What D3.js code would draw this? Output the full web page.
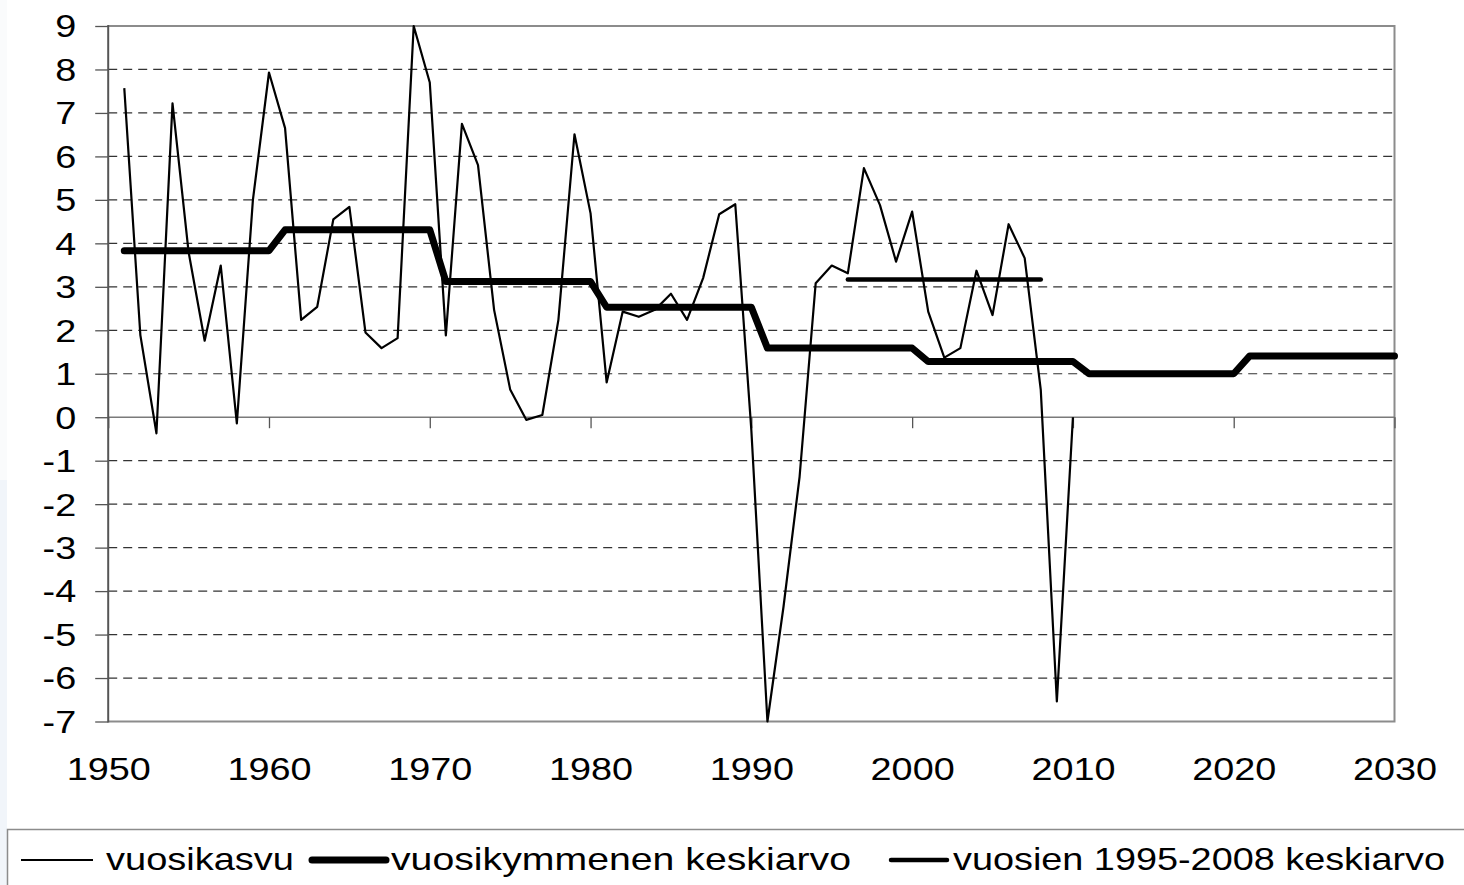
<!DOCTYPE html>
<html>
<head>
<meta charset="utf-8">
<script src="https://cdn.jsdelivr.net/npm/d3@7"></script>
<style>
  html, body { margin: 0; padding: 0; background: #ffffff; }
  svg { display: block; }
  text { font-family: "Liberation Sans", Arial, sans-serif; fill: #000; }
</style>
</head>
<body>
<svg id="chart" width="1464" height="885"></svg>
<script>
// ---- data ----
const growthYears = [1951,1952,1953,1954,1955,1956,1957,1958,1959,1960,
  1961,1962,1963,1964,1965,1966,1967,1968,1969,1970,
  1971,1972,1973,1974,1975,1976,1977,1978,1979,1980,
  1981,1982,1983,1984,1985,1986,1987,1988,1989,1990,
  1991,1992,1993,1994,1995,1996,1997,1998,1999,2000,
  2001,2002,2003,2004,2005,2006,2007,2008,2009,2010];
const growthValues = [7.57,1.89,-0.37,7.22,3.8,1.76,3.49,-0.14,5.0,7.93,
  6.65,2.24,2.54,4.55,4.84,1.95,1.59,1.82,9.0,7.7,
  1.88,6.75,5.8,2.47,0.64,-0.06,0.05,2.24,6.51,4.69,
  0.8,2.43,2.31,2.47,2.84,2.24,3.2,4.67,4.9,-0.3,
  -7.0,-4.36,-1.37,3.08,3.49,3.31,5.73,4.88,3.58,4.73,
  2.43,1.37,1.59,3.37,2.35,4.44,3.66,0.63,-6.54,0.0];

const decadeStart = [1951,1961,1971,1981,1991,2001,2011,2021];
const decadeEnd   = [1960,1970,1980,1990,2000,2010,2020,2030];
const decadeValues = [3.83,4.31,3.12,2.53,1.59,1.28,1.0,1.41];

const periodYears = [1996,2008];
const periodValue = 3.17;

const xTickYears = [1950,1960,1970,1980,1990,2000,2010,2020,2030];
const yTickValues = [9,8,7,6,5,4,3,2,1,0,-1,-2,-3,-4,-5,-6,-7];

const legendLabels = ["vuosikasvu","vuosikymmenen keskiarvo","vuosien 1995-2008 keskiarvo"];

// ---- layout ----
const L = 108.2, R = 1394.5, T = 26, B = 721.5;
const SX = 1.22; // horizontal text stretch
const svg = d3.select("#chart");

svg.append("rect").attr("x",0).attr("y",0).attr("width",7).attr("height",480).attr("fill","#fafbfc");
svg.append("rect").attr("x",0).attr("y",480).attr("width",7).attr("height",405).attr("fill","#f1f5fa");

const x = d3.scaleLinear().domain([1950,2030]).range([L,R]);
const y = d3.scaleLinear().domain([-7,9]).range([B,T]);
const plain = d => String(d);

// gridlines (dashed)
svg.append("g").selectAll("line")
  .data(yTickValues.filter(v => v !== 0 && v !== 9 && v !== -7))
  .join("line")
  .attr("x1", L).attr("x2", R)
  .attr("y1", d => y(d)).attr("y2", d => y(d))
  .attr("stroke", "#333").attr("stroke-width", 1.2)
  .attr("stroke-dasharray", "9,6");

// plot border: top, right, bottom
svg.append("path")
  .attr("d", `M${L},${y(9)}H${R}V${y(-7)}H${L}`)
  .attr("fill","none").attr("stroke","#8c8c8c").attr("stroke-width",2);

// zero line
svg.append("line").attr("x1",L).attr("x2",R).attr("y1",y(0)).attr("y2",y(0))
  .attr("stroke","#7a7a7a").attr("stroke-width",1.6);

// y axis
const yAxis = svg.append("g").attr("transform",`translate(${L},0)`)
  .call(d3.axisLeft(y).tickValues(yTickValues).tickSize(13).tickFormat(plain));
yAxis.select(".domain").remove();
yAxis.selectAll(".tick line").attr("stroke","#555").attr("stroke-width",1.3);
yAxis.selectAll(".tick text")
  .attr("x", -32 / SX).attr("dy","0.35em")
  .attr("transform", `scale(${SX},1)`)
  .style("font-size","31px").style("font-family",'"Liberation Sans", Arial, sans-serif');
svg.append("line").attr("x1",L).attr("x2",L).attr("y1",T-1).attr("y2",B+1)
  .attr("stroke","#555").attr("stroke-width",2);

// x axis tick marks at zero
const xTicks = svg.append("g").attr("transform",`translate(0,${y(0)})`)
  .call(d3.axisBottom(x).tickValues(xTickYears).tickSize(11).tickFormat(""));
xTicks.select(".domain").remove();
xTicks.selectAll(".tick line").attr("stroke","#555").attr("stroke-width",1.3);

// x labels at bottom
const xLabels = svg.append("g").attr("transform",`translate(0,780)`)
  .call(d3.axisBottom(x).tickValues(xTickYears).tickSize(0).tickFormat(plain));
xLabels.select(".domain").remove();
xLabels.selectAll(".tick text")
  .attr("y",0).attr("dy",0)
  .attr("transform", `scale(${SX},1)`)
  .style("font-size","31px").style("font-family",'"Liberation Sans", Arial, sans-serif');

// series
const line = d3.line().x(d => x(d[0])).y(d => y(d[1]));

const growthPts = growthYears.map((yr,i) => [yr, growthValues[i]]);
svg.append("path").datum(growthPts).attr("d", line)
  .attr("fill","none").attr("stroke","#000").attr("stroke-width",2.2)
  .attr("stroke-linejoin","round");

const decadePts = [];
decadeStart.forEach((s,i) => { decadePts.push([s, decadeValues[i]]); decadePts.push([decadeEnd[i], decadeValues[i]]); });
svg.append("path").datum(decadePts).attr("d", line)
  .attr("fill","none").attr("stroke","#000").attr("stroke-width",7)
  .attr("stroke-linejoin","round").attr("stroke-linecap","round");

svg.append("path").datum(periodYears.map(yr => [yr, periodValue])).attr("d", line)
  .attr("fill","none").attr("stroke","#000").attr("stroke-width",4.5)
  .attr("stroke-linecap","round");

// legend
svg.append("rect").attr("x",7.5).attr("y",829.5).attr("width",1480).attr("height",80)
  .attr("fill","#fff").attr("stroke","#8c8c8c").attr("stroke-width",1.5);

const legendItems = [
  {x1: 21, x2: 93, w: 2, cap: "butt", tx: 106, tw: 188},
  {x1: 312, x2: 386, w: 7, cap: "round", tx: 391, tw: 460},
  {x1: 891, x2: 947, w: 4.5, cap: "round", tx: 953, tw: 492}
];
const lg = svg.append("g");
legendItems.forEach((it,i) => {
  lg.append("line").attr("x1",it.x1).attr("x2",it.x2).attr("y1",860).attr("y2",860)
    .attr("stroke","#000").attr("stroke-width",it.w).attr("stroke-linecap",it.cap);
  lg.append("g").attr("transform",`translate(${it.tx},870) scale(${SX},1)`)
    .append("text").attr("x",0).attr("y",0)
    .attr("textLength", it.tw / SX).attr("lengthAdjust","spacingAndGlyphs")
    .style("font-size","31px")
    .text(legendLabels[i]);
});
</script>
</body>
</html>
